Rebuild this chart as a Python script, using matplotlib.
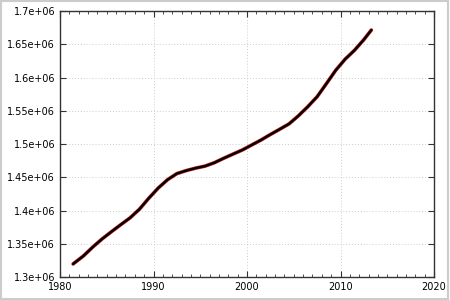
import numpy as np
import matplotlib.pyplot as plt
from matplotlib.patches import Rectangle
from matplotlib.ticker import MultipleLocator

# Values
years = [1981.4, 1982.5, 1983.5, 1984.5, 1985.5, 1986.5, 1987.5, 1988.5, 1989.5,
         1990.5, 1991.5, 1992.5, 1993.5, 1994.5, 1995.5, 1996.5, 1997.5, 1998.5,
         1999.5, 2000.5, 2001.5, 2002.5, 2003.5, 2004.5, 2005.5, 2006.5, 2007.5,
         2008.5, 2009.5, 2010.5, 2011.5, 2012.5, 2013.3]
values = [1.3196, 1.3316, 1.3450, 1.3572, 1.3681, 1.3787, 1.3890, 1.4020, 1.4185,
          1.4337, 1.4463, 1.4555, 1.4600, 1.4637, 1.4667, 1.4718, 1.4785, 1.4848,
          1.4910, 1.4985, 1.5060, 1.5143, 1.5222, 1.5303, 1.5424, 1.5561, 1.5711,
          1.5909, 1.6111, 1.6276, 1.6410, 1.6570, 1.6714]
values = [v * 1e6 for v in values]

yticks = np.arange(1.3e6, 1.7e6 + 1, 0.05e6)
ytick_labels = ['1.3e+06', '1.35e+06', '1.4e+06', '1.45e+06', '1.5e+06',
                '1.55e+06', '1.6e+06', '1.65e+06', '1.7e+06']

fig = plt.figure(figsize=(4.5, 3), dpi=100)
ax = fig.add_axes([60 / 450, 23 / 300, 374 / 450, 266 / 300])

ax.plot(years, values, color='#cc2222', lw=2.6, solid_capstyle='round')
ax.plot(years, values, color='black', lw=1.7, solid_capstyle='round')

ax.set_xlim(1980, 2020)
ax.set_ylim(1.3e6, 1.7e6)
ax.set_xticks([1980, 1990, 2000, 2010, 2020])
ax.xaxis.set_minor_locator(MultipleLocator(1))
ax.set_yticks(yticks)
ax.set_yticklabels(ytick_labels)

ax.tick_params(which='both', direction='in', top=True, right=True,
               labelsize=7, colors='#333333', labelcolor='black')
ax.tick_params(which='major', length=4, width=0.8)
ax.tick_params(which='minor', length=2.5, width=0.6)
ax.grid(True, which='major', linestyle=(0, (1, 2)), color='#cccccc', lw=0.7)
for s in ax.spines.values():
    s.set_color('#333333')
    s.set_linewidth(1.0)

# light frame around the image
fig.patches.append(Rectangle((0.002, 0.003), 0.994, 0.994, transform=fig.transFigure,
                             fill=False, edgecolor='#cccccc', lw=1.5))

fig.savefig('out.png', dpi=100)
